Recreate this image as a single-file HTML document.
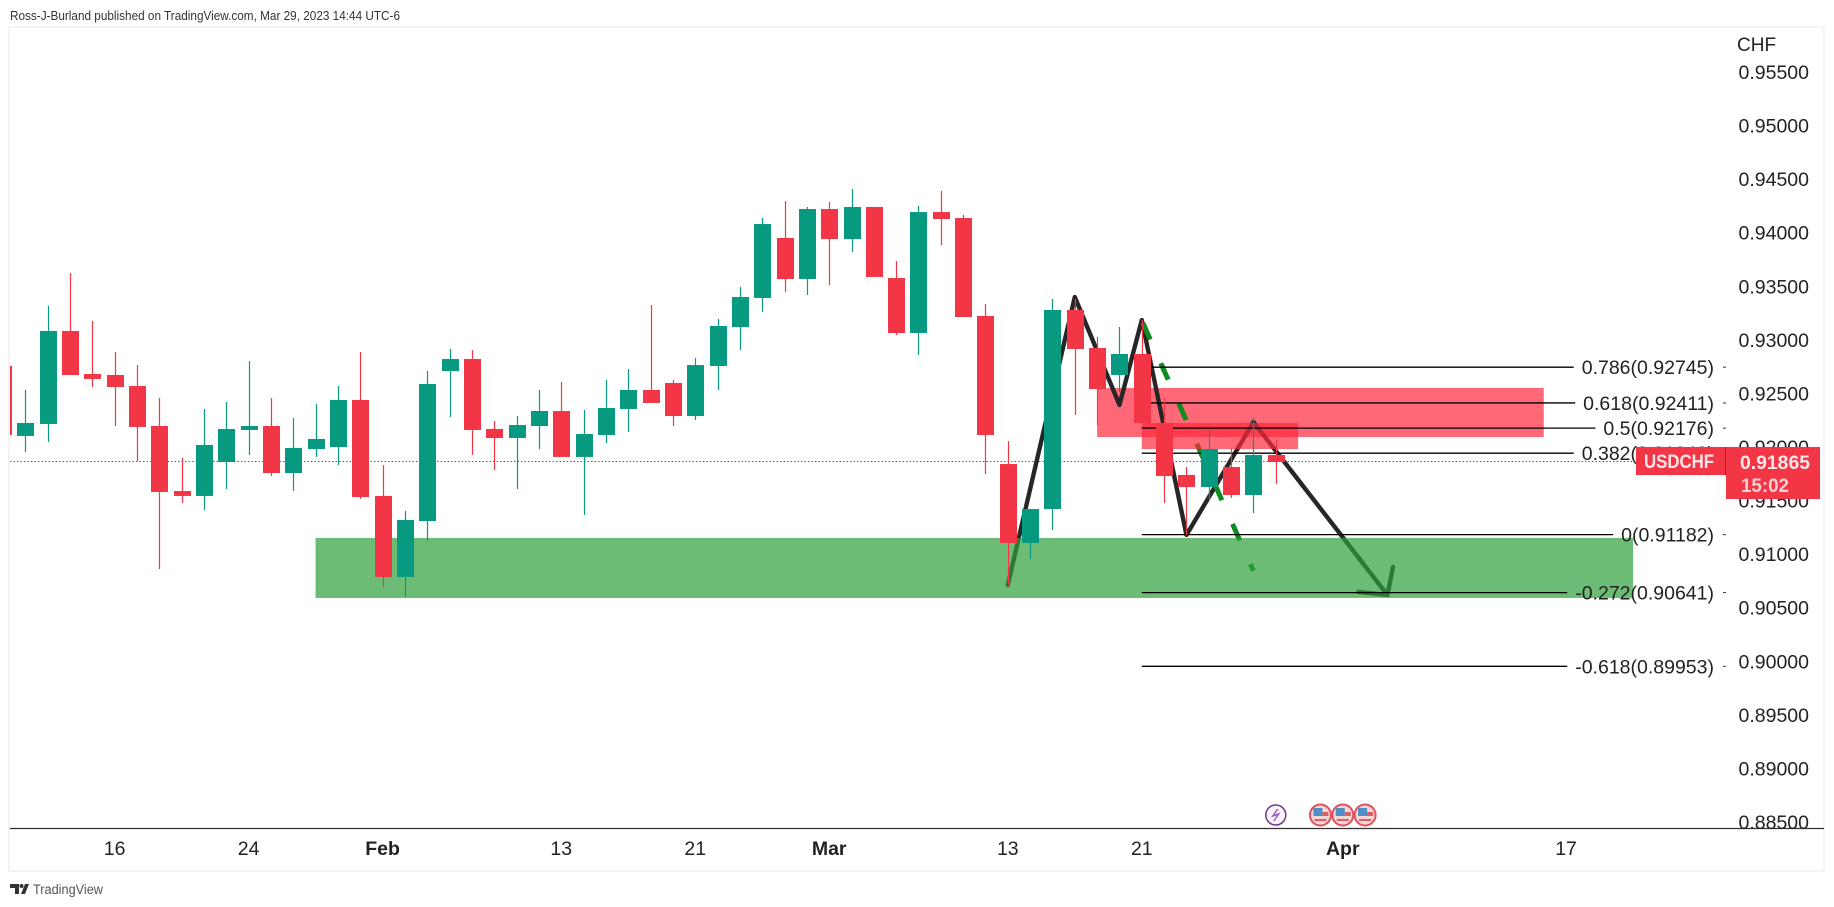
<!DOCTYPE html>
<html lang="en">
<head>
<meta charset="utf-8">
<title>USDCHF chart</title>
<style>
  html, body { margin: 0; padding: 0; background: #fff; }
  svg { display: block; font-family: "Liberation Sans", sans-serif; }
  .lbl { font-size: 19.5px; fill: #222; }
</style>
</head>
<body>
<svg xmlns="http://www.w3.org/2000/svg" width="1834" height="907" viewBox="0 0 1834 907">
  <defs>
    <clipPath id="pane-clip"><rect x="10" y="28" width="1813" height="800"/></clipPath>
  </defs>
  <rect x="0" y="0" width="1834" height="907" fill="#ffffff"/>
  <text x="10" y="20" font-size="13" fill="#333" textLength="390" lengthAdjust="spacingAndGlyphs">Ross-J-Burland published on TradingView.com, Mar 29, 2023 14:44 UTC-6</text>
  <rect x="9" y="27" width="1815" height="844" fill="none" stroke="#f3f3f3" stroke-width="2"/>

  <g clip-path="url(#pane-clip)">
    <g id="layer-price-line"></g>
    <g id="layer-zones-under"></g>
    <g id="layer-strokes"></g>
    <g id="layer-zones"></g>
    <g id="layer-fib"></g>
    <g id="layer-candles"></g>
    <g id="layer-events"></g>
  </g>

  <line x1="10" y1="828.5" x2="1824" y2="828.5" stroke="#333" stroke-width="1.3"/>
  <g id="layer-yticks"></g>
  <g id="layer-xticks"></g>
  <text x="1737" y="51" font-size="19" fill="#222">CHF</text>
  <g id="layer-fib-labels"></g>

  <g>
    <rect x="1636" y="447" width="89" height="28" fill="#F23645"/>
    <text x="1644" y="468" font-size="19" font-weight="bold" fill="#ffe6e8" textLength="70" lengthAdjust="spacingAndGlyphs">USDCHF</text>
  </g>
  <rect x="1725" y="447" width="1" height="28" fill="#8a2a33"/>
  <g>
    <rect x="1726" y="447" width="94" height="52" fill="#F23645"/>
    <text id="last-price-text" x="1740" y="469" font-size="19.5" font-weight="bold" fill="#ffe6e8" textLength="70" lengthAdjust="spacingAndGlyphs"></text>
    <text x="1741" y="492" font-size="19.5" font-weight="bold" fill="#ffd0d4" textLength="48" lengthAdjust="spacingAndGlyphs">15:02</text>
  </g>

  <g>
    <path d="M10 884h9v10h-4v-6h-5z" fill="#333"/>
    <circle cx="21.5" cy="886" r="2" fill="#333"/>
    <polygon points="25,884 29,884 25,894 21,894" fill="#333"/>
    <text x="33" y="894" font-size="13.5" fill="#555" textLength="70" lengthAdjust="spacingAndGlyphs">TradingView</text>
  </g>

<script>
// ---------- chart data (prices) ----------
const opens = [0.92756,0.92103,0.92215,0.93083,0.92681,0.92672,0.92569,0.92196,0.91589,0.91543,0.9186,0.92159,0.92196,0.91757,0.91981,0.92,0.92439,0.91543,0.90787,0.91309,0.92709,0.92821,0.92168,0.92084,0.92196,0.92336,0.91907,0.92112,0.92355,0.92532,0.92597,0.92289,0.92756,0.9312,0.93391,0.93951,0.93568,0.94221,0.93941,0.9424,0.93577,0.93064,0.94193,0.94137,0.93223,0.91841,0.91104,0.91421,0.93279,0.92924,0.92672,0.92868,0.92224,0.91739,0.91627,0.91813,0.91552,0.91925];
const highs = [0.92756,0.92532,0.93316,0.93624,0.93176,0.92887,0.92765,0.92457,0.91897,0.92355,0.9242,0.92803,0.92457,0.92271,0.92401,0.92569,0.92887,0.91832,0.91403,0.92709,0.92915,0.92905,0.92243,0.92289,0.92532,0.92607,0.92345,0.92625,0.92728,0.93325,0.92625,0.92831,0.93195,0.93493,0.94137,0.94296,0.9424,0.94287,0.94408,0.9424,0.93736,0.94249,0.94389,0.94165,0.93335,0.92056,0.91421,0.93381,0.93381,0.93027,0.9312,0.93185,0.92457,0.91813,0.92159,0.91991,0.92271,0.92065];
const lows = [0.92112,0.91953,0.92047,0.92672,0.9256,0.92196,0.91869,0.90861,0.91478,0.91412,0.91608,0.91925,0.91729,0.91589,0.91907,0.91832,0.91515,0.90694,0.906,0.91123,0.9228,0.91925,0.91785,0.91608,0.91981,0.91907,0.91366,0.92037,0.9214,0.92411,0.92196,0.92252,0.92532,0.92905,0.9326,0.93447,0.93419,0.93512,0.9382,0.93587,0.93045,0.92859,0.93885,0.93213,0.91748,0.90712,0.90955,0.91225,0.92299,0.92205,0.92513,0.92224,0.91478,0.91179,0.91505,0.91524,0.91384,0.91655];
const closes = [0.92112,0.92224,0.93083,0.92672,0.92635,0.9256,0.92187,0.9158,0.91543,0.92019,0.92168,0.92196,0.91757,0.91991,0.92075,0.92439,0.91533,0.90787,0.91319,0.92588,0.92821,0.92159,0.92084,0.92205,0.92336,0.91907,0.92121,0.92364,0.92532,0.92411,0.92289,0.92765,0.93129,0.934,0.94081,0.93568,0.94221,0.93941,0.9424,0.93587,0.93064,0.94193,0.94128,0.93213,0.92112,0.91104,0.91421,0.93279,0.92915,0.92541,0.92868,0.92224,0.91729,0.91627,0.91981,0.91552,0.91925,0.9186];
const firstBarIndex = -1;
const lastPrice = 0.91865;
const priceTicks = ["0.95500","0.95000","0.94500","0.94000","0.93500","0.93000","0.92500","0.92000","0.91500","0.91000","0.90500","0.90000","0.89500","0.89000","0.88500"];
const timeTickLabels = ["16","24","Feb","13","21","Mar","13","21","Apr","17"];
const timeTickBars = [4,10,16,24,30,36,44,50,59,69];
const timeTickMonth = [false,false,true,false,false,true,false,false,true,false];
const fibRatios = ["0.786","0.618","0.5","0.382","0","-0.272","-0.618"];
const fibPrices = [0.92745,0.92411,0.92176,0.91942,0.91182,0.90641,0.89953];
const fibStartBar = 50;
const supportZone = { fromBar: 13, toBar: 72, top: 0.91151, bottom: 0.90591 };
const resistanceZoneWide = { fromBar: 48, toBar: 68, top: 0.92551, bottom: 0.92093 };
const resistanceZoneNarrow = { fromBar: 50, toBar: 57, top: 0.92224, bottom: 0.91981 };
const pathBars = [44,47,49,50,52,55,61];
const pathPrices = [0.90712,0.934,0.92392,0.93185,0.91179,0.92233,0.90619];
const arrowBarBars = [61.25,61,59.7];
const arrowBarPrices = [0.9088,0.90619,0.90647];
const dashedBars = [50.05,55];
const dashedPrices = [0.93157,0.90843];
const newsEventBars = [56];
const usEventBars = [58,59,60];

// ---------- axis functions ----------
function xScale(bar) { return 25.3 + 22.33 * bar; }
function yScale(price) { return 72 + (0.955 - price) * 10714; }

const SVGNS = 'http://www.w3.org/2000/svg';
function make(parent, tag, attrs) {
  const n = document.createElementNS(SVGNS, tag);
  for (const k in attrs) n.setAttribute(k, attrs[k]);
  parent.appendChild(n);
  return n;
}
const UP = '#089981', DOWN = '#F23645';

// last price dotted line
const priceLine = make(document.getElementById('layer-price-line'), 'line', {
  x1: 10, x2: 1723, y1: yScale(lastPrice), y2: yScale(lastPrice),
  stroke: '#c2323f', 'stroke-width': 1, 'stroke-dasharray': '1.5 2'
});


document.getElementById('last-price-text').textContent = lastPrice.toFixed(5);

// zones
function zoneRect(parent, z, fill) {
  return make(parent, 'rect', {
    x: xScale(z.fromBar), y: yScale(z.top),
    width: xScale(z.toBar) - xScale(z.fromBar), height: yScale(z.bottom) - yScale(z.top), fill: fill
  });
}
const zonesUnder = document.getElementById('layer-zones-under');
const zones = document.getElementById('layer-zones');
const zoneB = zoneRect(zonesUnder, resistanceZoneWide, 'rgba(255,40,60,0.7)');


const zoneA = zoneRect(zones, supportZone, 'rgba(46,160,60,0.7)');


const zoneC = zoneRect(zones, resistanceZoneNarrow, 'rgba(255,40,60,0.7)');



// hand-drawn path, arrow head and dashed projection
const strokes = document.getElementById('layer-strokes');
const pathPts = pathBars.map((b, i) => xScale(b) + ',' + yScale(pathPrices[i])).join(' ');
const zig = make(strokes, 'polyline', { points: pathPts, fill: 'none', stroke: '#262626', 'stroke-width': 4.4, 'stroke-linejoin': 'round', 'stroke-linecap': 'round' });


const arrowPts = arrowBarBars.map((b, i) => xScale(b) + ',' + yScale(arrowBarPrices[i])).join(' ');
const arrowHead = make(strokes, 'polyline', { points: arrowPts, fill: 'none', stroke: '#262626', 'stroke-width': 4.4, 'stroke-linejoin': 'round', 'stroke-linecap': 'round' });


const dashed = make(strokes, 'line', {
  x1: xScale(dashedBars[0]), y1: yScale(dashedPrices[0]), x2: xScale(dashedBars[1]), y2: yScale(dashedPrices[1]),
  stroke: '#0f8a22', 'stroke-width': 5, 'stroke-dasharray': '18 26'
});



// candles
const candleLayer = document.getElementById('layer-candles');
opens.forEach((o, i) => {
  const c = closes[i];
  const color = c >= o ? UP : DOWN;
  const cx = Math.round(xScale(firstBarIndex + i));
  const g = make(candleLayer, 'g', {});
  
  
  make(g, 'line', { x1: cx + 0.5, x2: cx + 0.5, y1: yScale(highs[i]), y2: yScale(lows[i]), stroke: color, 'stroke-width': 1.2 });
  const t = yScale(Math.max(o, c)), b = yScale(Math.min(o, c));
  make(g, 'rect', { x: cx - 8, y: t, width: 17, height: Math.max(b - t, 1), fill: color });
});

// fibonacci retracement
const fibLayer = document.getElementById('layer-fib');
const fibLabelLayer = document.getElementById('layer-fib-labels');
fibRatios.forEach((r, i) => {
  const y = yScale(fibPrices[i]);
  const label = make(fibLabelLayer, 'text', { x: 1714, y: y + 7, 'text-anchor': 'end', class: 'lbl' });
  
  
  label.textContent = r + '(' + fibPrices[i].toFixed(5) + ')';
  const w = label.getComputedTextLength();
  const ln = make(fibLayer, 'line', { x1: xScale(fibStartBar), x2: 1714 - w - 8, y1: y, y2: y, stroke: '#000', 'stroke-width': 1.3 });
  
  
  const tick = make(fibLabelLayer, 'line', { x1: 1723, x2: 1726, y1: y, y2: y, stroke: '#333', 'stroke-width': 1 });
  
  
});

// price axis
const yLayer = document.getElementById('layer-yticks');
priceTicks.forEach(p => {
  const t = make(yLayer, 'text', { x: 1809, y: yScale(parseFloat(p)) + 7, 'text-anchor': 'end', class: 'lbl' });
  
  
  t.textContent = p;
});

// time axis
const xLayer = document.getElementById('layer-xticks');
timeTickLabels.forEach((l, i) => {
  const t = make(xLayer, 'text', { x: xScale(timeTickBars[i]), y: 855, 'text-anchor': 'middle', class: 'lbl', 'font-weight': timeTickMonth[i] ? 'bold' : 'normal' });
  
  
  t.textContent = l;
});

// event markers
const evLayer = document.getElementById('layer-events');
newsEventBars.forEach(b => {
  const cx = xScale(b);
  const g = make(evLayer, 'g', {});
  
  
  make(g, 'circle', { cx: cx, cy: 815, r: 10, fill: '#faf5fc', stroke: '#6b3a94', 'stroke-width': 1.5 });
  make(g, 'polyline', { points: (cx + 2) + ',809 ' + (cx - 3) + ',816 ' + (cx + 3) + ',814 ' + (cx - 2) + ',821', fill: 'none', stroke: '#9a5fc0', 'stroke-width': 1.5 });
});
usEventBars.forEach(b => {
  const cx = xScale(b);
  const g = make(evLayer, 'g', {});
  
  
  make(g, 'circle', { cx: cx, cy: 815, r: 10.5, fill: '#f6d5d5', stroke: '#e0505c', 'stroke-width': 2 });
  make(g, 'rect', { x: cx - 7, y: 808, width: 9, height: 8, fill: '#4f8fc8' });
  make(g, 'rect', { x: cx + 2, y: 812, width: 6, height: 4, fill: '#d9606a' });
  make(g, 'rect', { x: cx - 6, y: 819, width: 12, height: 2, fill: '#e0606a' });
});
</script>
</svg>
</body>
</html>
